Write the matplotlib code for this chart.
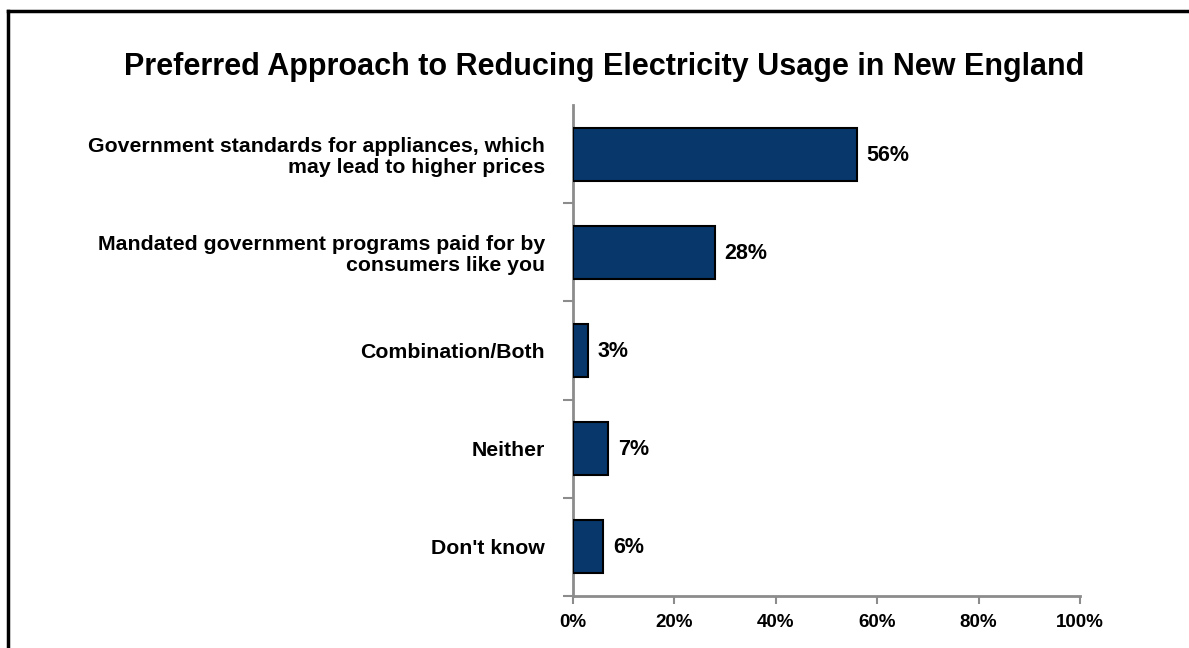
import numpy as np
import matplotlib.pyplot as plt
from matplotlib.lines import Line2D

plt.rcParams['font.family'] = ['Liberation Sans', 'DejaVu Sans']
plt.rcParams['font.weight'] = 'bold'

# data
categories = ['Government standards for appliances, which\nmay lead to higher prices',
              'Mandated government programs paid for by\nconsumers like you',
              'Combination/Both',
              'Neither',
              "Don't know"]
values = [56, 28, 3, 7, 6]
xticks = [0, 20, 40, 60, 80, 100]

fig = plt.figure(figsize=(11.89, 6.48), dpi=100)
ax = fig.add_axes([0.4819, 0.0802, 0.4264, 0.7577])

y = np.arange(len(categories))
ax.barh(y, values, height=0.54, color='#08376B', edgecolor='black', linewidth=1.5, zorder=3)
for yi, v in zip(y, values):
    ax.text(v + 1.9, yi + 0.01, f'{v}%', va='center', ha='left', fontsize=15.5, fontweight='bold')

ax.set_xlim(0, 100)
ax.set_ylim(len(categories) - 0.5, -0.5)
ax.set_xticks(xticks)
ax.set_xticklabels([f'{t}%' for t in xticks], fontsize=13.5, fontweight='bold')
ax.set_yticks(y)
ax.set_yticklabels(categories, fontsize=15.3, fontweight='bold', linespacing=1.1)
ax.set_yticks(np.arange(1, len(categories) + 1) - 0.5, minor=True)

ax.tick_params(axis='y', which='major', length=0, pad=20)
ax.tick_params(axis='y', which='minor', length=7, width=1.5, color='#8C8C8C')
ax.tick_params(axis='x', length=6, width=1.5, color='#8C8C8C', pad=7)

for s in ['top', 'right']:
    ax.spines[s].set_visible(False)
for s in ['left', 'bottom']:
    ax.spines[s].set_color('#8C8C8C')
    ax.spines[s].set_linewidth(2)

fig.text(0.508, 0.897, 'Preferred Approach to Reducing Electricity Usage in New England',
         ha='center', va='center', fontsize=22, fontweight='bold')

# outer frame (left and top only visible)
fig.add_artist(Line2D([8 / 1189, 8 / 1189], [0, 1 - 11 / 648], transform=fig.transFigure,
                      color='black', linewidth=2.5))
fig.add_artist(Line2D([8 / 1189, 1], [1 - 11 / 648, 1 - 11 / 648], transform=fig.transFigure,
                      color='black', linewidth=2.5))

fig.savefig('out.png', dpi=100)
